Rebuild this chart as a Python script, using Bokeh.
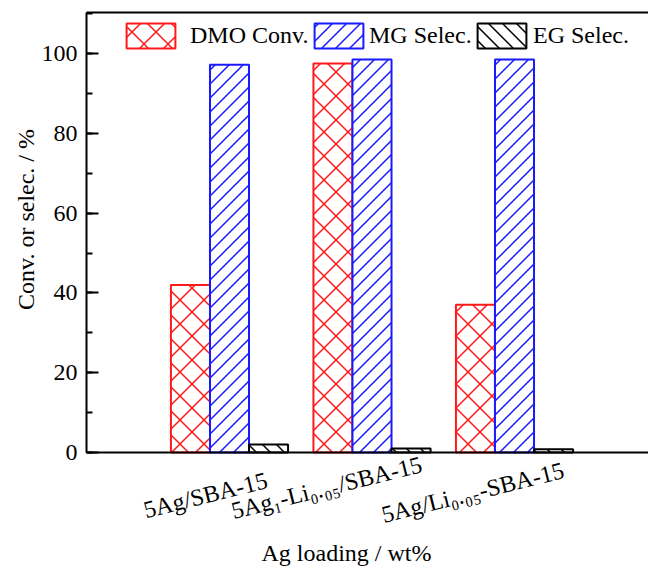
import math
import base64
import struct
import zlib
import numpy as np
from bokeh.plotting import figure
from bokeh.core.properties import value
from bokeh.models import (Range1d, FixedTicker, SingleIntervalTicker, LinearAxis, Label,
                          Legend, LegendItem, ImageURLTexture)
from bokeh.embed import file_html
from bokeh.resources import INLINE

# ---------------- data ----------------
catalysts = ["5Ag/SBA-15", "5Ag\u2081-Li\u2080.\u2080\u2085/SBA-15", "5Ag/Li\u2080.\u2080\u2085-SBA-15"]
dmo_conv = [42.0, 97.5, 37.0]
mg_selec = [97.2, 98.5, 98.5]
eg_selec = [2.0, 1.0, 0.8]
series_names = ["DMO Conv.", "MG Selec.", "EG Selec."]
y_label = "Conv. or selec. / %"
x_label = "Ag loading / wt%"
y_max = 110.3

# ---------------- layout / style ----------------
FONT = "Liberation Serif"
FS = "24px"
W, H = 648, 570
BAR_W = 0.274
colors = ["#ff1a1a", "#1a1aff", "#000000"]

# frame covers the whole canvas; axes are pinned with fixed_location
PX_PER_X = 142.5
PX_PER_Y = 3.99
AX_LEFT_PX, AX_BOTTOM_PX = 86, 452
x_axis_pos = -1.0035                      # data x of the left axis line
x_start = x_axis_pos - AX_LEFT_PX / PX_PER_X
x_end = x_start + W / PX_PER_X
y_end_canvas = AX_BOTTOM_PX / PX_PER_Y
y_start_canvas = -(H - AX_BOTTOM_PX) / PX_PER_Y


def hex_rgb(c):
    c = c.lstrip("#")
    return [int(c[i:i + 2], 16) for i in (0, 2, 4)]


def png_texture(col, modes, s, w=1.5):
    """45-degree line hatch tile; modes: 'f' for '/', 'b' for '\\'."""
    r, g, b = hex_rgb(col)
    img = np.zeros((s, s, 4), dtype=np.uint8)
    for j in range(s):
        for i in range(s):
            x, y = i + 0.5, j + 0.5
            a = 0.0
            for m in modes:
                t = ((x + y) if m == "f" else (x - y)) % s
                d = min(t, s - t) / math.sqrt(2)
                a = max(a, min(max(w / 2 + 0.5 - d, 0.0), 1.0))
            img[j, i] = [r, g, b, int(round(a * 255))]
    raw = b"".join(b"\x00" + img[j].tobytes() for j in range(s))

    def chunk(tag, data):
        c = struct.pack(">I", len(data)) + tag + data
        return c + struct.pack(">I", zlib.crc32(tag + data) & 0xffffffff)

    png = (b"\x89PNG\r\n\x1a\n" + chunk(b"IHDR", struct.pack(">IIBBBBB", s, s, 8, 6, 0, 0, 0))
           + chunk(b"IDAT", zlib.compress(raw)) + chunk(b"IEND", b""))
    return ImageURLTexture(url="data:image/png;base64," + base64.b64encode(png).decode())


textures = {"cross45": png_texture(colors[0], "fb", 24),
            "fwd45": png_texture(colors[1], "f", 14),
            "back45": png_texture(colors[2], "b", 14)}
hatches = ["cross45", "fwd45", "back45"]

# text anchors in canvas pixels (layout)
tick_label_pos = [(266.4, 479.4), (421.0, 463.5), (563.0, 469.4)]
tick_label_angle = math.radians(14)
x_label_pos = (346.0, 552.0)
y_label_pos = (25.5, 219.0)
legend_locs = [(120, 519), (308, 519), (471, 519)]
legend_standoffs = [9, 0, 1]

p = figure(width=W, height=H, output_backend="svg", toolbar_location=None,
           x_range=Range1d(x_start, x_end), y_range=Range1d(y_start_canvas, y_end_canvas),
           min_border=0, background_fill_color="white", border_fill_color="white")
p.outline_line_color = None
p.grid.visible = False

# bottom axis: line only
xax = p.xaxis[0]
xax.fixed_location = 0
xax.bounds = (x_axis_pos, x_end)
xax.ticker = FixedTicker(ticks=[])
xax.axis_line_width = 2
xax.axis_line_color = "black"
xax.major_tick_line_color = None
xax.minor_tick_line_color = None

# left axis
yax = p.yaxis[0]
yax.fixed_location = x_axis_pos
yax.bounds = (0, y_max)
yax.ticker = SingleIntervalTicker(interval=20, num_minor_ticks=2)
yax.axis_line_width = 2
yax.axis_line_color = "black"
yax.major_tick_in = 12
yax.major_tick_out = 0
yax.minor_tick_in = 6
yax.minor_tick_out = 0
yax.major_tick_line_width = 2
yax.minor_tick_line_width = 2
yax.major_tick_line_color = "black"
yax.minor_tick_line_color = "black"
yax.major_label_text_font = FONT
yax.major_label_text_font_size = FS
yax.major_label_text_color = "black"
yax.major_label_standoff = 9

# top line
top_axis = LinearAxis(ticker=FixedTicker(ticks=[]), axis_line_width=2,
                      axis_line_color="black", major_tick_out=0, major_tick_in=0,
                      minor_tick_out=0, minor_tick_in=0, major_label_standoff=0,
                      fixed_location=y_max, bounds=(x_axis_pos, x_end))
p.add_layout(top_axis, "above")

# bars
idx = np.arange(len(catalysts))
series = [dmo_conv, mg_selec, eg_selec]
renderers = []
for k, vals in enumerate(series):
    r = p.vbar(x=idx + (k - 1) * BAR_W, top=vals, width=BAR_W, bottom=0,
               fill_color="white", line_color=colors[k], line_width=2,
               hatch_pattern=value(hatches[k]), hatch_color=colors[k],
               hatch_extra=textures)
    renderers.append(r)

for k, name in enumerate(series_names):
    leg = Legend(items=[LegendItem(label=name, renderers=[renderers[k]])],
                 location=legend_locs[k], orientation="horizontal",
                 glyph_width=61, glyph_height=31, label_text_font=FONT,
                 label_text_font_size=FS, label_text_color="black",
                 label_standoff=legend_standoffs[k], padding=0, margin=0,
                 border_line_color=None, background_fill_alpha=0)
    p.add_layout(leg, "center")

# category labels (rotated)
for name, (lx, ly) in zip(catalysts, tick_label_pos):
    p.add_layout(Label(x=lx, y=ly, x_units="canvas", y_units="canvas", text=name,
                       angle=tick_label_angle, text_align="right",
                       text_baseline="middle", text_font=FONT,
                       text_font_size=FS, text_color="black"))

p.add_layout(Label(x=x_label_pos[0], y=x_label_pos[1], x_units="canvas", y_units="canvas",
                   text=x_label, text_align="center", text_baseline="middle",
                   text_font=FONT, text_font_size=FS, text_color="black"))
p.add_layout(Label(x=y_label_pos[0], y=y_label_pos[1], x_units="canvas", y_units="canvas",
                   text=y_label, angle=math.pi / 2, text_align="center",
                   text_baseline="middle", text_font=FONT, text_font_size="24px",
                   text_color="black"))

open("out.html", "w").write(file_html(p, INLINE))
